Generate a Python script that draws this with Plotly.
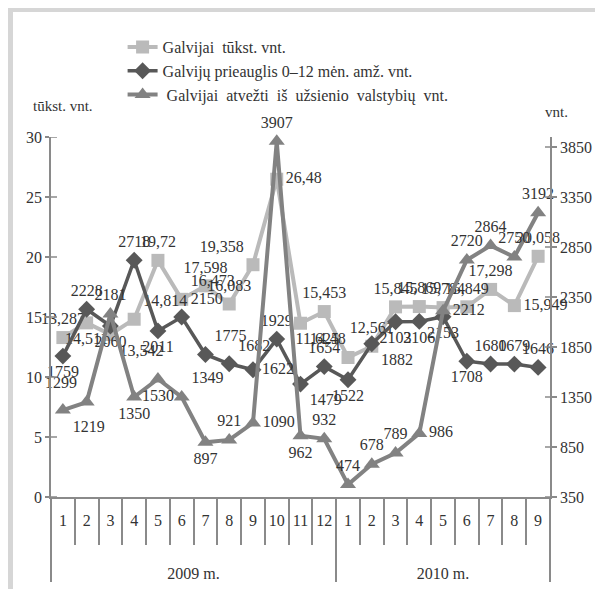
import plotly.graph_objects as go

# ---- data ----
years = ["2009 m."] * 12 + ["2010 m."] * 9
months = [str(m) for m in range(1, 13)] + [str(m) for m in range(1, 10)]

galvijai = [13.287, 14.511, 13.542, 14.814, 19.72, 16.473, 17.598, 16.083, 19.358, 26.48, 14.48, 15.453,
            11.625, 12.561, 15.845, 15.869, 15.784, 15.849, 17.298, 15.949, 20.058]
prieauglis = [1759, 2228, 2060, 2718, 2011, 2150, 1775, 1682, 1622, 1929, 1479, 1654,
              1522, 1882, 2103, 2106, 2153, 1708, 1680, 1679, 1646]
atvezti = [1219, 1299, 2181, 1350, 1530, 1349, 897, 921, 1090, 3907, 962, 932,
           474, 678, 789, 986, 2212, 2720, 2864, 2750, 3192]

names = ["Galvijai  tūkst. vnt.",
         "Galvijų prieauglis 0–12 mėn. amž. vnt.",
         " Galvijai  atvežti  iš  užsienio  valstybių  vnt."]

left_ticks = [0, 5, 10, 15, 20, 25, 30]
right_ticks = [350, 850, 1350, 1850, 2350, 2850, 3350, 3850]

FONT = "Liberation Serif, Times New Roman, serif"
TXT = "#333333"
AX = "#8a8a8a"

pos_g = ["top center", "bottom center", "bottom right", "top right", "top center", "top right",
         "top center", "top center", "top left", "middle right", "bottom right", "top center",
         "top left", "top center", "top center", "top center", "top center", "top center",
         "top center", "middle right", "top center"]
pos_p = ["bottom center", "top center", "bottom center", "top center", "bottom center", "top right",
         "top right", "top right", "middle right", "top center", "bottom right", "top center",
         "bottom center", "bottom right", "bottom center", "bottom center", "bottom center",
         "bottom center", "top center", "top center", "top center"]
pos_a = ["bottom right", "top left", "top center", "bottom center", "bottom center", "top right",
         "bottom center", "top center", "middle right", "top center", "bottom center", "top center",
         "top center", "top center", "top center", "middle right", "middle right", "top center",
         "top center", "top center", "top center"]

# outer (year) level gets empty lines above it so it sits lower, as in the original
x = [["<br><br>" + y for y in years], months]
tf = dict(family=FONT, size=16, color=TXT)

fig = go.Figure()
fig.add_trace(go.Scatter(
    x=x, y=galvijai, name=names[0], mode="lines+markers+text",
    line=dict(color="#bababa", width=4),
    marker=dict(symbol="square", size=13, color="#bababa"),
    text=[f"{v}".replace(".", ",") for v in galvijai], textposition=pos_g, textfont=tf,
    cliponaxis=False, yaxis="y"))
fig.add_trace(go.Scatter(
    x=x, y=prieauglis, name=names[1], mode="lines+markers+text",
    line=dict(color="#585858", width=3.5),
    marker=dict(symbol="diamond", size=13, color="#585858"),
    text=[str(v) for v in prieauglis], textposition=pos_p, textfont=tf,
    cliponaxis=False, yaxis="y2"))
fig.add_trace(go.Scatter(
    x=x, y=atvezti, name=names[2], mode="lines+markers+text",
    line=dict(color="#828282", width=4),
    marker=dict(symbol="triangle-up", size=14, color="#828282"),
    text=[str(v) for v in atvezti], textposition=pos_a, textfont=tf,
    cliponaxis=False, yaxis="y2"))

# inner halves of the crossing tick marks on both value axes
tick_shapes = []
for v in left_ticks:
    tick_shapes.append(dict(type="line", xref="paper", yref="y", x0=0, x1=6 / 499, y0=v, y1=v,
                            line=dict(color=AX, width=1.5)))
for v in right_ticks:
    tick_shapes.append(dict(type="line", xref="paper", yref="y2", x0=1 - 5 / 499, x1=1, y0=v, y1=v,
                            line=dict(color=AX, width=1.5)))

frame = [
    dict(type="rect", xref="paper", yref="paper", x0=-43 / 499, x1=-38 / 499,
         y0=(497 - 7) / 360, y1=(497 - 600) / 360, fillcolor="#d6d6d6", line_width=0, layer="below"),
    dict(type="rect", xref="paper", yref="paper", x0=-43 / 499, x1=(620 - 51) / 499,
         y0=(497 - 7) / 360, y1=(497 - 12) / 360, fillcolor="#d6d6d6", line_width=0, layer="below"),
]

axfont = dict(family=FONT, size=16, color=TXT)
fig.update_layout(
    width=595, height=581,
    margin=dict(l=43, r=53, t=129, b=92, autoexpand=False),
    paper_bgcolor="white", plot_bgcolor="white",
    font=dict(family=FONT, size=16, color=TXT),
    showlegend=True,
    legend=dict(xref="container", yref="container", x=0.1926, y=0.962, xanchor="left", yanchor="top",
                font=dict(family=FONT, size=16, color=TXT), bgcolor="rgba(0,0,0,0)",
                tracegroupgap=0),
    xaxis=dict(type="multicategory", range=[-0.5, 20.5], showline=True, linecolor=AX, linewidth=1.5,
               ticks="outside", tickson="boundaries", ticklen=46, tickcolor=AX, tickwidth=1.5,
               showdividers=True, dividercolor=AX, dividerwidth=1.5, tickangle=0,
               ticklabelstandoff=8,
               tickfont=axfont, showgrid=False, zeroline=False, automargin=False),
    yaxis=dict(range=[0, 30], tickvals=left_ticks, showline=True, linecolor=AX, linewidth=1.5,
               ticks="outside", ticklen=4, tickcolor=AX, tickwidth=1.5, tickfont=axfont,
               showgrid=False, zeroline=False, automargin=False),
    yaxis2=dict(range=[350, 3950], tickvals=right_ticks, overlaying="y", side="right",
                showline=True, linecolor=AX, linewidth=1.5, ticks="outside", ticklen=5,
                tickcolor=AX, tickwidth=1.5, tickfont=axfont,
                showgrid=False, zeroline=False, automargin=False),
    annotations=[
        dict(text="tūkst. vnt.", xref="paper", yref="paper", x=(63 - 51) / 499, y=(497 - 106) / 360,
             xanchor="center", yanchor="middle", showarrow=False, font=dict(family=FONT, size=15, color=TXT)),
        dict(text="vnt.", xref="paper", yref="paper", x=(556 - 51) / 499, y=(497 - 112) / 360,
             xanchor="center", yanchor="middle", showarrow=False, font=dict(family=FONT, size=15, color=TXT)),
    ],
    shapes=frame + tick_shapes,
)

fig.write_html("out.html")
